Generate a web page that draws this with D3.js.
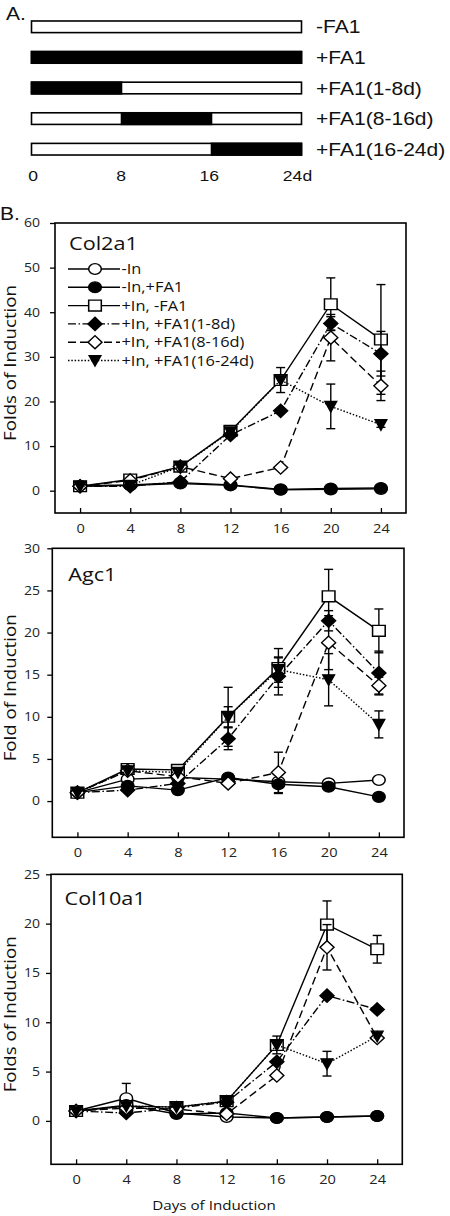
<!DOCTYPE html>
<html><head><meta charset="utf-8">
<script src="https://cdn.jsdelivr.net/npm/d3@7"></script>
<style>body{margin:0;background:#fff} svg{display:block}</style>
</head><body>
<svg id="c" width="450" height="1216"></svg>
<script>
// ---------- DATA ----------
const schemeLabels = ["-FA1", "+FA1", "+FA1(1-8d)", "+FA1(8-16d)", "+FA1(16-24d)"];
const schemeStart = [null, 0, 0, 8, 16];
const schemeEnd = [null, 24, 8, 16, 24];
const schemeTicks = [0, 8, 16, 24];
const schemeTickLabels = ["0", "8", "16", "24d"];

const days = [0, 4, 8, 12, 16, 20, 24];
const seriesNames = ["-In", "-In,+FA1", "+In, -FA1", "+In, +FA1(1-8d)", "+In, +FA1(8-16d)", "+In, +FA1(16-24d)"];

// Col2a1
const col2a1_noIn      = [1.0, 1.2, 1.6, 1.2, 0.2, 0.3, 0.4];
const col2a1_noInFA1   = [1.1, 1.3, 1.8, 1.3, 0.3, 0.5, 0.6];
const col2a1_In        = [1.0, 2.5, 5.4, 13.4, 24.8, 41.8, 33.9];
const col2a1_FA1_1_8   = [1.0, 1.0, 2.0, 12.5, 17.9, 37.5, 30.7];
const col2a1_FA1_8_16  = [1.0, 2.3, 5.4, 2.7, 5.2, 34.3, 23.5];
const col2a1_FA1_16_24 = [1.0, 1.2, 5.4, 13.2, 24.8, 18.9, 14.8];
const col2a1_err_noIn      = [0, 0, 0, 0, 0, 0, 0];
const col2a1_err_noInFA1   = [0, 0, 0, 0, 0, 0, 0];
const col2a1_err_In        = [0, 0, 0, 0.5, 2.8, 5.9, 12.3];
const col2a1_err_FA1_1_8   = [0, 0, 0, 0, 0, 1.5, 5.0];
const col2a1_err_FA1_8_16  = [0, 0, 0, 0, 0, 5.2, 3.3];
const col2a1_err_FA1_16_24 = [0, 0, 0, 0, 0, 5.0, 0.6];

// Agc1
const agc1_noIn      = [1.0, 2.6, 2.8, 2.6, 2.3, 2.1, 2.5];
const agc1_noInFA1   = [1.0, 1.8, 1.3, 2.8, 2.0, 1.7, 0.5];
const agc1_In        = [1.0, 3.8, 3.7, 10.0, 15.8, 24.3, 20.2];
const agc1_FA1_1_8   = [1.0, 1.3, 2.1, 7.4, 14.8, 21.4, 15.2];
const agc1_FA1_8_16  = [1.0, 3.6, 2.9, 2.1, 3.4, 18.8, 13.7];
const agc1_FA1_16_24 = [1.0, 3.6, 3.4, 10.0, 15.6, 14.4, 9.1];
const agc1_err_noIn      = [0, 0, 0, 0, 0, 0.3, 0];
const agc1_err_noInFA1   = [0, 0, 0, 0, 1.1, 0, 0];
const agc1_err_In        = [0, 0.2, 0.2, 3.5, 2.3, 3.2, 2.6];
const agc1_err_FA1_1_8   = [0, 0, 0, 1.3, 2.2, 1.2, 2.6];
const agc1_err_FA1_8_16  = [0, 0, 0, 0, 2.4, 3.2, 1.0];
const agc1_err_FA1_16_24 = [0, 0, 0, 1.2, 1.5, 3.1, 1.6];

// Col10a1
const col10a1_noIn      = [1.0, 2.3, 0.8, 0.4, 0.3, 0.4, 0.5];
const col10a1_noInFA1   = [1.0, 1.6, 0.7, 0.8, 0.3, 0.4, 0.5];
const col10a1_In        = [1.0, 1.5, 1.4, 2.0, 7.7, 19.9, 17.4];
const col10a1_FA1_1_8   = [1.0, 0.8, 1.3, 1.9, 6.0, 12.7, 11.3];
const col10a1_FA1_8_16  = [1.0, 1.3, 1.2, 0.7, 4.6, 17.6, 8.4];
const col10a1_FA1_16_24 = [1.0, 1.5, 1.4, 2.0, 7.7, 5.8, 8.6];
const col10a1_err_noIn      = [0, 1.5, 0, 0, 0, 0, 0];
const col10a1_err_noInFA1   = [0, 0, 0, 0, 0, 0, 0];
const col10a1_err_In        = [0, 0, 0, 0, 0.9, 2.4, 1.4];
const col10a1_err_FA1_1_8   = [0, 0, 0, 0, 0, 0, 0];
const col10a1_err_FA1_8_16  = [0, 0, 0, 0, 0, 2.3, 0];
const col10a1_err_FA1_16_24 = [0, 0, 0, 0, 0, 1.25, 0];

const col2a1Ticks = [0, 10, 20, 30, 40, 50, 60];
const agc1Ticks = [0, 5, 10, 15, 20, 25, 30];
const col10a1Ticks = [0, 5, 10, 15, 20, 25];

// ---------- DRAW ----------
const SX = 1.17;
const svg = d3.select("#c");
const FONT = "'Open Sans', 'Noto Sans', sans-serif";
const AFONT = "'Liberation Sans', Arial, sans-serif";
const LW = 1.4;

function txt(g, x, y, s, size, family, anchor, rot) {
  return g.append("text")
    .attr("transform", `translate(${x},${y})` + (rot ? ` rotate(${rot})` : "") + ` scale(${SX},1)`)
    .attr("font-family", family).attr("font-size", size)
    .attr("text-anchor", anchor || "start").attr("fill", "#111")
    .text(s);
}

// Panel A
txt(svg, 6, 20, "A.", 18, AFONT);
const xs = d3.scaleLinear().domain([0, 24]).range([31.5, 301.5]);
const ys = d3.scaleBand().domain(schemeLabels).range([11.5, 164.5]).paddingInner(0.62).paddingOuter(0.31);
schemeLabels.forEach((lab, i) => {
  const y = ys(lab), h = ys.bandwidth();
  svg.append("rect").attr("x", xs(0)).attr("y", y).attr("width", xs(24) - xs(0)).attr("height", h)
    .attr("fill", "#fff").attr("stroke", "#000").attr("stroke-width", 1.6);
  if (schemeStart[i] !== null) {
    svg.append("rect").attr("x", xs(schemeStart[i])).attr("y", y).attr("width", xs(schemeEnd[i]) - xs(schemeStart[i])).attr("height", h)
      .attr("fill", "#000").attr("stroke", "#000").attr("stroke-width", 1.6);
  }
  txt(svg, 316, y + h / 2 + 6.5, lab, 18, AFONT);
});
const xl = d3.scaleLinear().domain([0, 24]).range([33, 297.5]);
schemeTicks.forEach((t, i) => {
  txt(svg, xl(t), 181, schemeTickLabels[i], 15, AFONT, "middle");
});

txt(svg, 0, 220, "B.", 18, AFONT);

// marker shapes (unit paths, later scaled)
const shapes = {
  circle: d3.symbol().type(d3.symbolCircle).size(Math.PI * 5.4 * 5.4)(),
  square: "M-5.4,-5.4H5.4V5.4H-5.4Z",
  diamond: "M0,-6.6L6,0L0,6.6L-6,0Z",
  tri: "M-5,-4.9L5,-4.9L0,5.6Z"
};
const styles = [
  { shape: "circle", fill: "#fff", dash: null },
  { shape: "circle", fill: "#000", dash: null },
  { shape: "square", fill: "#fff", dash: null },
  { shape: "diamond", fill: "#000", dash: "8,2.5,1.5,2.5" },
  { shape: "diamond", fill: "#fff", dash: "8,4" },
  { shape: "tri", fill: "#000", dash: "1.5,1.8" }
];

function marker(g, x, y, st) {
  g.append("path").attr("d", shapes[st.shape])
    .attr("transform", `translate(${x},${y}) scale(${SX},1)`)
    .attr("fill", st.fill).attr("stroke", "#000").attr("stroke-width", 1.3);
}

function chart(cfg) {
  const g = svg.append("g");
  const x = d3.scaleLinear().domain([-2, 26]).range([cfg.left, cfg.right]);
  const y = d3.scaleLinear().domain(cfg.ydom).range([cfg.bottom, cfg.top]);

  // y axis
  const ya = g.append("g").attr("transform", `translate(${cfg.left},0)`)
    .call(d3.axisLeft(y).tickValues(cfg.ticks).tickSize(5).tickPadding(cfg.left - 45));
  ya.select(".domain").remove();
  ya.selectAll("line").attr("stroke", "#000").attr("stroke-width", 1.3);
  ya.selectAll("text").each(function () {
    const t = d3.select(this); const xx = +t.attr("x");
    t.attr("x", null).attr("transform", `translate(${xx},0) scale(${SX},1)`);
  }).attr("font-family", FONT).attr("font-size", 12).attr("fill", "#222");

  // x axis
  const xa = g.append("g").attr("transform", `translate(0,${cfg.bottom})`)
    .call(d3.axisBottom(x).tickValues(days).tickSize(-5).tickPadding(11));
  xa.select(".domain").remove();
  xa.selectAll("line").attr("stroke", "#000").attr("stroke-width", 1.3);
  xa.selectAll("text").attr("transform", `scale(${SX},1)`)
    .attr("font-family", FONT).attr("font-size", 12.5).attr("fill", "#222");

  // frame
  g.append("rect").attr("x", cfg.left).attr("y", cfg.top)
    .attr("width", cfg.right - cfg.left).attr("height", cfg.bottom - cfg.top)
    .attr("fill", "none").attr("stroke", "#000").attr("stroke-width", 1.6);

  // title
  txt(g, cfg.left + cfg.titleDx, cfg.titleY, cfg.title, 18.5, FONT);
  // y label
  txt(g, 16, (cfg.top + cfg.bottom) / 2 - 5, cfg.ylabel, 16, FONT, "middle", -90);

  const line = d3.line().x((d, i) => x(days[i])).y(d => y(d));
  cfg.series.forEach((vals, si) => {
    const st = styles[si];
    g.append("path").datum(vals).attr("d", line)
      .attr("fill", "none").attr("stroke", "#000").attr("stroke-width", LW)
      .attr("stroke-dasharray", st.dash);
    const err = cfg.errors[si];
    vals.forEach((v, i) => {
      if (err[i] > 0) {
        const cx = x(days[i]);
        const y1 = y(v - err[i]), y2 = y(v + err[i]);
        g.append("line").attr("x1", cx).attr("x2", cx).attr("y1", y1).attr("y2", y2)
          .attr("stroke", "#000").attr("stroke-width", 1.4);
        [y1, y2].forEach(yy => g.append("line").attr("x1", cx - 4.5).attr("x2", cx + 4.5)
          .attr("y1", yy).attr("y2", yy).attr("stroke", "#000").attr("stroke-width", 1.4));
      }
    });
    vals.forEach((v, i) => marker(g, x(days[i]), y(v), st));
  });

  if (cfg.legend) {
    seriesNames.forEach((nm, i) => {
      const yy = cfg.top + 46 + i * 18.3;
      const st = styles[i];
      g.append("line").attr("x1", cfg.left + 13).attr("x2", cfg.left + 65)
        .attr("y1", yy).attr("y2", yy).attr("stroke", "#000").attr("stroke-width", LW)
        .attr("stroke-dasharray", st.dash);
      marker(g, cfg.left + 40, yy, st);
      txt(g, cfg.left + 66.5, yy + 5, nm, 14, FONT);
    });
  }
}

chart({
  left: 55, right: 406, top: 223, bottom: 513, ydom: [-5, 60], ticks: col2a1Ticks,
  title: "Col2a1", titleDx: 14, titleY: 250, ylabel: "Folds of Induction", legend: true,
  series: [col2a1_noIn, col2a1_noInFA1, col2a1_In, col2a1_FA1_1_8, col2a1_FA1_8_16, col2a1_FA1_16_24],
  errors: [col2a1_err_noIn, col2a1_err_noInFA1, col2a1_err_In, col2a1_err_FA1_1_8, col2a1_err_FA1_8_16, col2a1_err_FA1_16_24]
});
chart({
  left: 52.3, right: 404, top: 548.3, bottom: 837.3, ydom: [-4.3, 30], ticks: agc1Ticks,
  title: "Agc1", titleDx: 16, titleY: 581, ylabel: "Fold of Induction", legend: false,
  series: [agc1_noIn, agc1_noInFA1, agc1_In, agc1_FA1_1_8, agc1_FA1_8_16, agc1_FA1_16_24],
  errors: [agc1_err_noIn, agc1_err_noInFA1, agc1_err_In, agc1_err_FA1_1_8, agc1_err_FA1_8_16, agc1_err_FA1_16_24]
});
chart({
  left: 51, right: 402.3, top: 874.3, bottom: 1164.3, ydom: [-4.4, 25], ticks: col10a1Ticks,
  title: "Col10a1", titleDx: 13.5, titleY: 905, ylabel: "Folds of Induction", legend: false,
  series: [col10a1_noIn, col10a1_noInFA1, col10a1_In, col10a1_FA1_1_8, col10a1_FA1_8_16, col10a1_FA1_16_24],
  errors: [col10a1_err_noIn, col10a1_err_noInFA1, col10a1_err_In, col10a1_err_FA1_1_8, col10a1_err_FA1_8_16, col10a1_err_FA1_16_24]
});
txt(svg, 214, 1210, "Days of Induction", 13, FONT, "middle");
</script>
</body></html>
